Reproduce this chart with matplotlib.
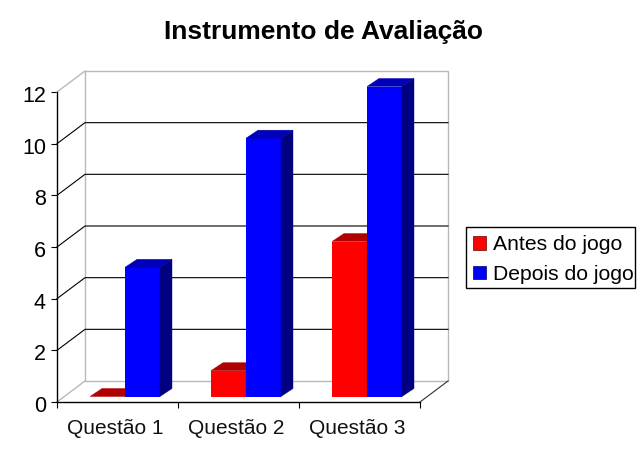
import matplotlib
matplotlib.use("Agg")
import matplotlib.pyplot as plt
from matplotlib.patches import Polygon, Rectangle
from matplotlib.transforms import ScaledTranslation

categories = ["Questão 1", "Questão 2", "Questão 3"]
antes = [0, 1, 6]
depois = [5, 10, 12]
yticks = [0, 2, 4, 6, 8, 10, 12]
title = "Instrumento de Avaliação"
series_names = ["Antes do jogo", "Depois do jogo"]

W, H = 639, 453
plt.rcParams["font.family"] = ["Liberation Sans", "DejaVu Sans"]
fig = plt.figure(figsize=(W / 100, H / 100), dpi=100, facecolor="white")

L, R, T, B = 57, 420, 92, 402
ax = fig.add_axes([L / W, 1 - B / H, (R - L) / W, (B - T) / H])
ax.set_xlim(0, len(categories))
ax.set_ylim(0, 12)
ax.patch.set_visible(False)
for name, s in ax.spines.items():
    s.set_visible(name in ("bottom", "left"))
    s.set_linewidth(1)

px = len(categories) / (R - L)
py = 12 / (B - T)
DX, DY = 28 * px, 21 * py         # wall depth
BX, BY = 7.5 * px, 5.5 * py       # bar front inset
SX, SY = 12 * px, 8 * py          # bar depth
BW = 35 * px

GRAY = "#b8b8b8"
ymax = yticks[-1]
xmax = len(categories)

# wall and floor
ax.add_patch(Rectangle((DX, DY), xmax, ymax, fc="white", ec=GRAY, lw=1, zorder=1, clip_on=False))
ax.plot([0, DX], [0, DY], color=GRAY, lw=1, zorder=1.5, clip_on=False)
ax.plot([xmax, xmax + DX], [0, DY], color="#303030", lw=0.8, zorder=1.5, clip_on=False)
for v in yticks[1:-1]:
    ax.plot([0, DX, xmax + DX], [v, v + DY, v + DY], color="black", lw=0.8, zorder=1.6, clip_on=False)
ax.plot([0, DX], [ymax, ymax + DY], color=GRAY, lw=1, zorder=1.6, clip_on=False)


def bar3d(x0, v, front, top, side, z):
    kw = dict(closed=True, lw=0.3, zorder=z, clip_on=False)
    x, y = x0 + BX, BY
    ax.bar(x, v, BW, bottom=y, align="edge", color=front, linewidth=0, zorder=z, clip_on=False)
    ax.add_patch(Polygon([(x, y + v), (x + SX, y + v + SY), (x + BW + SX, y + v + SY), (x + BW, y + v)],
                         fc=top, ec=top, **kw))
    ax.add_patch(Polygon([(x + BW, y), (x + BW + SX, y + SY), (x + BW + SX, y + v + SY), (x + BW, y + v)],
                         fc=side, ec=side, **kw))


for i in range(len(categories)):
    c = i + 0.5
    bar3d(c - BW, antes[i], "#ff0000", "#b00000", "#800000", 3)
    bar3d(c, depois[i], "#0000ff", "#0000b8", "#000080", 4)

ax.set_xticks(range(len(categories) + 1))
ax.set_xticklabels([])
ax.tick_params(axis="x", length=4.5, width=0.8, color="black")
for i, name in enumerate(categories):
    ax.annotate(name, (i + 0.5, 0), xytext=(-1.5, -26 * 0.72 - 0.5), textcoords="offset points",
                ha="center", va="center", fontsize=15, color="#111111")
ax.set_yticks(yticks)
ax.set_yticklabels([str(v) for v in yticks], fontsize=15.5)
ax.tick_params(axis="y", length=4, width=0.8, pad=4)
shift = ScaledTranslation(0, -1.5 / 72, fig.dpi_scale_trans)
for lbl in ax.get_yticklabels():
    lbl.set_transform(lbl.get_transform() + shift)

fig.text(323 / W, 1 - 31.5 / H, title, ha="center", va="center", fontsize=19, fontweight="bold")

# legend frame drawn separately so its width can match exactly
fig.add_artist(Rectangle((466 / W, 1 - 288 / H), 169 / W, 61 / H, transform=fig.transFigure,
                         fc="white", ec="black", lw=1))
handles = [Rectangle((0, 0), 1, 1, fc="#ff0000", ec="#600000", lw=0.5),
           Rectangle((0, 0), 1, 1, fc="#0000ff", ec="#000060", lw=0.5)]
leg = fig.legend(handles, series_names, loc="center left",
                 bbox_to_anchor=(468 / W, 1 - 259.5 / H), bbox_transform=fig.transFigure,
                 fontsize=15.2, frameon=False,
                 handlelength=0.62, handleheight=0.62, handletextpad=0.3, borderpad=0.25,
                 labelspacing=0.5, borderaxespad=0)
leg.set_zorder(5)

fig.savefig("out.png", dpi=100, facecolor="white")
